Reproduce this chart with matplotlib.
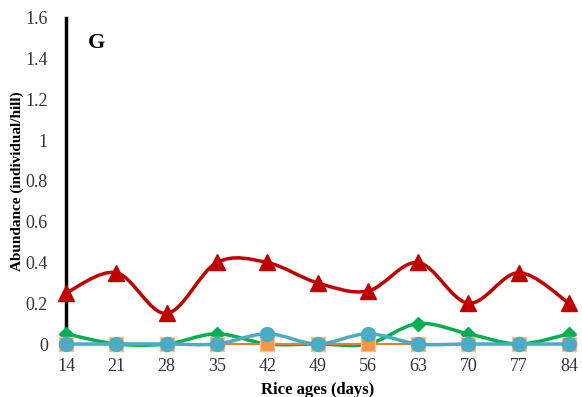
import matplotlib.pyplot as plt
from matplotlib.path import Path
from matplotlib.patches import PathPatch

days = [14, 21, 28, 35, 42, 49, 56, 63, 70, 77, 84]
red_tri = [0.25, 0.35, 0.15, 0.40, 0.40, 0.30, 0.26, 0.40, 0.20, 0.35, 0.20]
green_dia = [0.05, 0, 0, 0.05, 0, 0, 0, 0.10, 0.05, 0, 0.05]
orange_sq = [0, 0, 0, 0, 0, 0, 0, 0, 0, 0, 0]
blue_circ = [0, 0, 0, 0, 0.05, 0, 0.05, 0, 0, 0, 0]
y_ticks = [0, 0.2, 0.4, 0.6, 0.8, 1, 1.2, 1.4, 1.6]
y_labels = ["0", "0.2", "0.4", "0.6", "0.8", "1", "1.2", "1.4", "1.6"]

plt.rcParams['font.family'] = ['Liberation Serif', 'DejaVu Serif']


def smooth_path(x, y):
    # Excel-like smoothed line: Catmull-Rom segments as cubic Beziers
    verts = [(x[0], y[0])]
    codes = [Path.MOVETO]
    n = len(x)
    for i in range(n - 1):
        x0, y0 = (x[i - 1], y[i - 1]) if i > 0 else (x[i], y[i])
        x3, y3 = (x[i + 2], y[i + 2]) if i + 2 < n else (x[i + 1], y[i + 1])
        c1 = (x[i] + (x[i + 1] - x0) / 6, y[i] + (y[i + 1] - y0) / 6)
        c2 = (x[i + 1] - (x3 - x[i]) / 6, y[i + 1] - (y3 - y[i]) / 6)
        verts += [c1, c2, (x[i + 1], y[i + 1])]
        codes += [Path.CURVE4] * 3
    return Path(verts, codes)


fig = plt.figure(figsize=(5.82, 3.97), dpi=100)
ax = fig.add_axes([0.1134, 0.1335, 0.8643, 0.8212])

# drawn bottom to top
series = [
    (green_dia, '#00B050', 'D', '#00B050', '#00B050', 7, 2.5),
    (orange_sq, '#ED7D31', 's', '#F79646', '#FAC090', 9.5, 1.5),
    (blue_circ, '#4BACC6', 'o', '#4BACC6', '#4BACC6', 10, 2.5),
    (red_tri, '#C00000', '^', '#C00000', '#C00000', 11, 2.5),
]
for z, (vals, lc, m, fc, ec, ms, lw) in enumerate(series):
    ax.add_patch(PathPatch(smooth_path(days, vals), fill=False, edgecolor=lc,
                           lw=lw, zorder=3 + z * 2, clip_on=False))
    ax.plot(days, vals, linestyle='none', marker=m, markersize=ms,
            markerfacecolor=fc, markeredgecolor=ec, markeredgewidth=1,
            zorder=4 + z * 2, clip_on=False)

ax.set_xlim(14, 84)
ax.set_ylim(0, 1.6)
ax.set_xticks(days)
ax.set_xticklabels([str(d) for d in days], fontsize=13, color='#333333')
ax.set_yticks(y_ticks)
ax.set_yticklabels(y_labels, fontsize=13, color='#333333')
ax.tick_params(axis='x', length=0, pad=10)
ax.tick_params(axis='y', length=0, pad=13)

for s in ['top', 'right']:
    ax.spines[s].set_visible(False)
ax.spines['left'].set_linewidth(2.5)
ax.spines['left'].set_color('black')
ax.spines['bottom'].set_linewidth(1.2)
ax.spines['bottom'].set_color('#1F3040')
ax.spines['bottom'].set_zorder(2)

ax.set_xlabel('Rice ages (days)', fontsize=12, fontweight='bold', labelpad=5)
ax.set_ylabel('Abundance (individual/hill)', fontsize=11, fontweight='bold', labelpad=1)
ax.text(0.043, 0.955, 'G', transform=ax.transAxes, fontsize=16, fontweight='bold',
        va='top', ha='left')

fig.savefig('out.png', dpi=100)
